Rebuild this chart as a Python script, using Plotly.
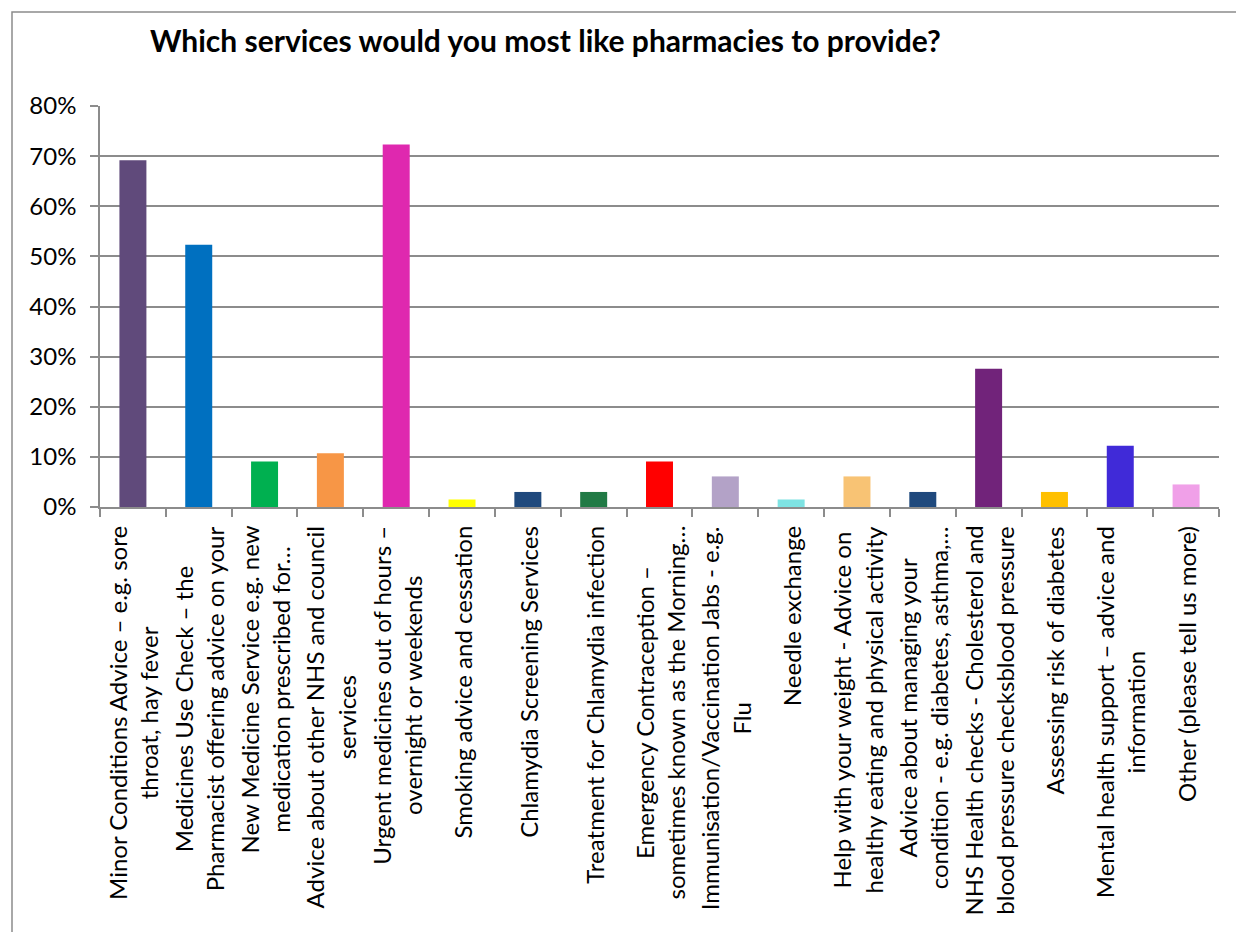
import plotly.graph_objects as go

categories = [
    "Minor Conditions Advice – e.g. sore<br>throat, hay fever",
    "Medicines Use Check – the<br>Pharmacist offering advice on your",
    "New Medicine Service e.g. new<br>medication prescribed for…",
    "Advice about other NHS and council<br>services",
    "Urgent medicines out of hours –<br>overnight or weekends",
    "Smoking advice and cessation",
    "Chlamydia Screening Services",
    "Treatment for Chlamydia infection",
    "Emergency Contraception –<br>sometimes known as the Morning…",
    "Immunisation/Vaccination Jabs - e.g.<br>Flu",
    "Needle exchange",
    "Help with your weight - Advice on<br>healthy eating and physical activity",
    "Advice about managing your<br>condition - e.g. diabetes, asthma,…",
    "NHS Health checks - Cholesterol and<br>blood pressure checksblood pressure",
    "Assessing risk of diabetes",
    "Mental health support – advice and<br>information",
    "Other (please tell us more)",
]
values = [0.692, 0.523, 0.091, 0.107, 0.723, 0.015, 0.030, 0.030, 0.091,
          0.061, 0.015, 0.061, 0.030, 0.276, 0.030, 0.122, 0.045]
colors = ["#604A7B", "#0070C0", "#00B050", "#F79646", "#DF28AF", "#FFFF00",
          "#1F497D", "#217A45", "#FF0000", "#B3A2C7", "#7EE3E3", "#F8C374",
          "#1F497D", "#71237A", "#FFC000", "#402AD8", "#F0A0E8"]
y_ticks = [0, 0.1, 0.2, 0.3, 0.4, 0.5, 0.6, 0.7, 0.8]
title = "Which services would you most like pharmacies to provide?"

FONT = "Lato"
W, H = 1236, 932
L, R, T, B = 100, 17, 106, 425
pw, ph = W - L - R, H - T - B

fig = go.Figure(go.Bar(x=categories, y=values, marker=dict(color=colors, line=dict(width=0)),
                       hoverinfo="skip"))

annotations = []
for c in categories:
    annotations.append(dict(x=c, xref="x", y=0, yref="paper", yanchor="top", xanchor="center",
                            yshift=-17, text=c, textangle=-90, showarrow=False, align="center",
                            font=dict(family=FONT, size=24, color="#000000")))

fig.update_layout(
    width=W, height=H,
    margin=dict(l=L, r=R, t=T, b=B),
    paper_bgcolor="white", plot_bgcolor="white",
    bargap=0.59,
    showlegend=False,
    title=dict(text="<b>" + title + "</b>", x=150 / W, xanchor="left", xref="container",
               y=1 - 41 / H, yanchor="middle", yref="container",
               font=dict(family=FONT, size=30, color="#000000")),
    annotations=annotations,
    shapes=[dict(type="rect", xref="paper", yref="paper",
                 x0=(12 - L) / pw, x1=(W + 10 - L) / pw,
                 y0=-(H + 10 - (H - B)) / ph, y1=(H - B - 12) / ph,
                 line=dict(color="#8C8C8C", width=1.5), fillcolor="rgba(0,0,0,0)", layer="below")],
)
fig.update_xaxes(showticklabels=False, tickson="boundaries", ticks="outside", ticklen=8,
                 tickcolor="#8C8C8C", tickwidth=1.5, showline=True, linecolor="#8C8C8C",
                 linewidth=1.5, showgrid=False, fixedrange=True)
fig.update_yaxes(range=[0, 0.8], tickvals=y_ticks, tickformat=".0%", ticks="outside", ticklen=8,
                 tickcolor="#8C8C8C", tickwidth=1.5, showline=True, linecolor="#8C8C8C",
                 linewidth=1.5, showgrid=True, gridcolor="#8C8C8C", gridwidth=1.5,
                 tickfont=dict(family=FONT, size=24, color="#000000"), ticklabelstandoff=9,
                 zeroline=False, fixedrange=True)

fig.write_html("out.html")
